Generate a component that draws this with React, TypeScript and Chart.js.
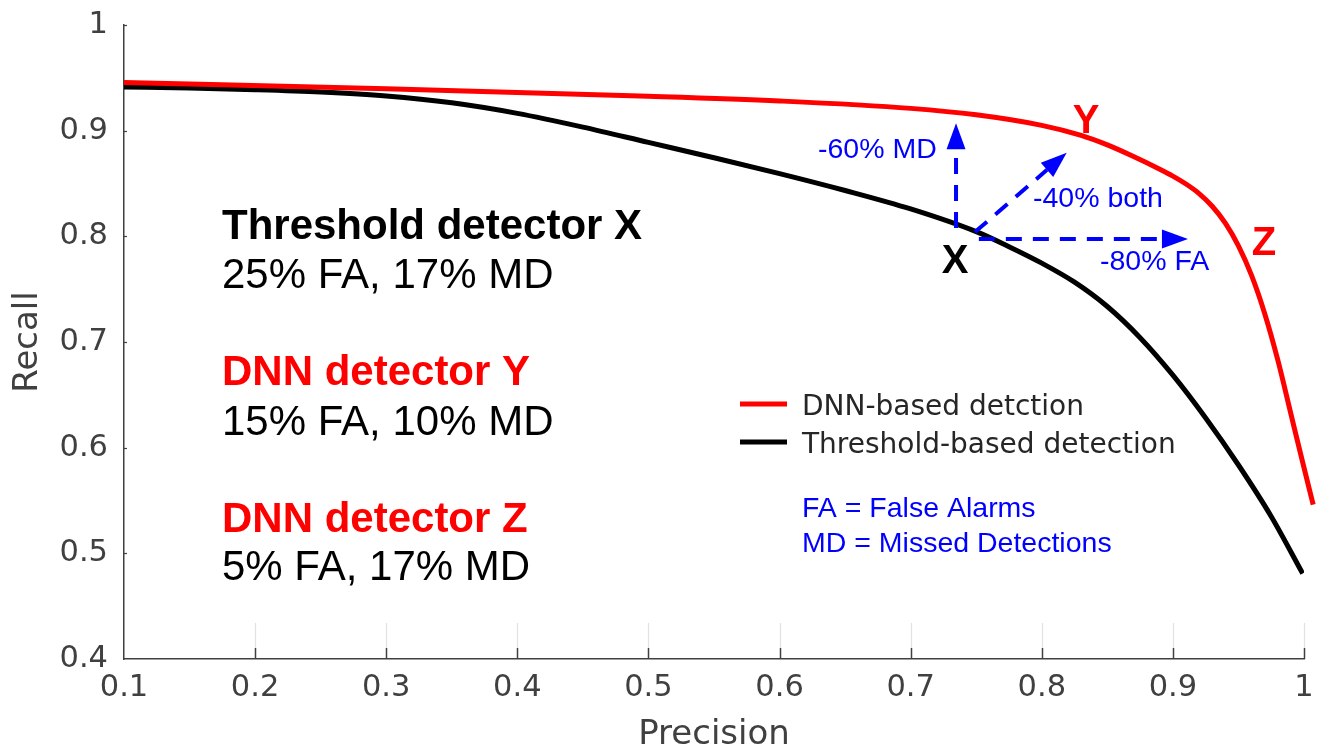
import React, { useEffect, useRef } from 'react';
import { Chart, registerables } from 'chart.js';

Chart.register(...registerables);

// ---------- data ----------
const precisionDNN = [0.1, 0.3, 0.5, 0.6, 0.7, 0.75, 0.8, 0.83, 0.85, 0.87, 0.89, 0.9, 0.91, 0.92, 0.93, 0.94, 0.95, 0.96, 0.97, 0.98, 0.99, 0.999, 1.007];
const recallDNN = [0.9456, 0.9396, 0.9326, 0.9281, 0.9211, 0.915, 0.905, 0.8955, 0.8865, 0.8755, 0.8635, 0.857, 0.8495, 0.8405, 0.8285, 0.8125, 0.791, 0.763, 0.727, 0.683, 0.632, 0.586, 0.546];

const precisionThreshold = [0.1, 0.15, 0.2, 0.25, 0.3, 0.35, 0.4, 0.45, 0.5, 0.55, 0.6, 0.65, 0.7, 0.75, 0.775, 0.8, 0.825, 0.85, 0.875, 0.9, 0.925, 0.95, 0.975, 0.999];
const recallThreshold = [0.9413, 0.9403, 0.9388, 0.9366, 0.9329, 0.9264, 0.9164, 0.9034, 0.8889, 0.8744, 0.8594, 0.8434, 0.8259, 0.8044, 0.7902, 0.7746, 0.7566, 0.7336, 0.7041, 0.6686, 0.6281, 0.5836, 0.5349, 0.4809];

const xTickValues = [0.1, 0.2, 0.3, 0.4, 0.5, 0.6, 0.7, 0.8, 0.9, 1.0];
const xTickLabels = ['0.1', '0.2', '0.3', '0.4', '0.5', '0.6', '0.7', '0.8', '0.9', '1'];
const yTickValues = [0.4, 0.5, 0.6, 0.7, 0.8, 0.9, 1.0];
const yTickLabels = ['0.4', '0.5', '0.6', '0.7', '0.8', '0.9', '1'];

const seriesLabels = ['DNN-based detction', 'Threshold-based detection'];
const seriesColors = ['#ff0000', '#000000'];

const detectorTexts = [
  'Threshold detector X',
  '25% FA, 17% MD',
  'DNN detector Y',
  '15% FA, 10% MD',
  'DNN detector Z',
  '5% FA, 17% MD',
];
const noteTexts = ['FA = False Alarms', 'MD = Missed Detections'];
const arrowTexts = ['-60% MD', '-40% both', '-80% FA'];
const pointLabels = ['X', 'Y', 'Z'];

const AXIS_FONT = 'DejaVu Sans';
const TEXT_FONT = 'Liberation Sans, Arial, Helvetica, sans-serif';
const BLUE = '#0000ff';

function drawArrow(ctx: CanvasRenderingContext2D, x1: number, y1: number, x2: number, y2: number) {
  const ang = Math.atan2(y2 - y1, x2 - x1);
  const hl = 26;
  const hw = 9.5;
  const c = Math.cos(ang);
  const s = Math.sin(ang);
  const bx = x2 - hl * c;
  const by = y2 - hl * s;
  ctx.save();
  ctx.strokeStyle = BLUE;
  ctx.fillStyle = BLUE;
  ctx.lineWidth = 4;
  ctx.setLineDash([16, 11]);
  ctx.beginPath();
  ctx.moveTo(x1, y1);
  ctx.lineTo(bx, by);
  ctx.stroke();
  ctx.setLineDash([]);
  ctx.beginPath();
  ctx.moveTo(x2, y2);
  ctx.lineTo(bx + hw * s, by - hw * c);
  ctx.lineTo(bx - hw * s, by + hw * c);
  ctx.closePath();
  ctx.fill();
  ctx.restore();
}

const decorPlugin = {
  id: 'decor',
  afterDraw(chart: any) {
    const ctx: CanvasRenderingContext2D = chart.ctx;
    const xs = chart.scales.x;
    const ys = chart.scales.y;
    const px = (v: number) => xs.getPixelForValue(v);
    const py = (v: number) => ys.getPixelForValue(v);
    const area = chart.chartArea;

    ctx.save();
    // inward tick marks (bottom)
    xTickValues.forEach((v, i) => {
      if (i === 0) return;
      const x = Math.round(px(v)) + 0.5;
      ctx.strokeStyle = '#e2e2e2';
      ctx.lineWidth = 1.2;
      ctx.beginPath();
      ctx.moveTo(x, area.bottom - 10);
      ctx.lineTo(x, area.bottom - 36);
      ctx.stroke();
      ctx.strokeStyle = '#404040';
      ctx.lineWidth = 1.5;
      ctx.beginPath();
      ctx.moveTo(x, area.bottom);
      ctx.lineTo(x, area.bottom - 11);
      ctx.stroke();
    });
    // inward tick marks (left)
    yTickValues.forEach((v, i) => {
      if (i === 0) return;
      const y = Math.round(py(v)) + 0.5;
      ctx.strokeStyle = '#404040';
      ctx.lineWidth = 1.2;
      ctx.beginPath();
      ctx.moveTo(area.left, y);
      ctx.lineTo(area.left + 3, y);
      ctx.stroke();
    });

    // left text block
    const leftX = 222;
    const baselines = [239, 288, 385, 435, 532, 580];
    const colors = ['#000000', '#000000', '#ff0000', '#000000', '#ff0000', '#000000'];
    ctx.textBaseline = 'alphabetic';
    ctx.textAlign = 'left';
    detectorTexts.forEach((t, i) => {
      const bold = i % 2 === 0;
      ctx.font = `${bold ? 'bold ' : ''}42px ${TEXT_FONT}`;
      ctx.fillStyle = colors[i];
      ctx.fillText(t, leftX, baselines[i]);
    });

    // arrows from point X
    drawArrow(ctx, px(0.7346), py(0.808), px(0.7346), py(0.907));
    drawArrow(ctx, px(0.749), py(0.804), px(0.819), py(0.879));
    drawArrow(ctx, px(0.752), py(0.7975), px(0.9115), py(0.7975));

    // arrow texts
    ctx.font = `28.5px ${TEXT_FONT}`;
    ctx.fillStyle = BLUE;
    ctx.textAlign = 'left';
    ctx.fillText(arrowTexts[0], 818, 158);
    ctx.fillText(arrowTexts[1], 1033, 207);
    ctx.fillText(arrowTexts[2], 1100, 270);

    // point labels
    ctx.font = `bold 40px ${TEXT_FONT}`;
    ctx.textAlign = 'center';
    ctx.fillStyle = '#000000';
    ctx.fillText(pointLabels[0], 955, 273);
    ctx.fillStyle = '#ff0000';
    ctx.fillText(pointLabels[1], 1086, 133);
    ctx.fillText(pointLabels[2], 1264, 255);

    // legend
    const ds = chart.data.datasets;
    const legendY = [404, 442];
    ds.forEach((d: any, i: number) => {
      ctx.strokeStyle = d.borderColor;
      ctx.lineWidth = 5;
      ctx.beginPath();
      ctx.moveTo(740, legendY[i]);
      ctx.lineTo(787, legendY[i]);
      ctx.stroke();
      ctx.font = `28px ${AXIS_FONT}`;
      ctx.fillStyle = '#262626';
      ctx.textAlign = 'left';
      ctx.fillText(d.label, 802, legendY[i] + 11);
    });

    // notes
    ctx.font = `28.5px ${TEXT_FONT}`;
    ctx.fillStyle = BLUE;
    ctx.fillText(noteTexts[0], 802, 517);
    ctx.fillText(noteTexts[1], 802, 552);
    ctx.restore();
  },
};

export default function App() {
  const canvasRef = useRef<HTMLCanvasElement | null>(null);

  useEffect(() => {
    const canvas = canvasRef.current;
    if (!canvas) return;
    const chart = new Chart(canvas, {
      type: 'line',
      data: {
        datasets: [
          {
            label: seriesLabels[0],
            data: precisionDNN.map((p, i) => ({ x: p, y: recallDNN[i] })),
            borderColor: seriesColors[0],
            backgroundColor: seriesColors[0],
            borderWidth: 5,
            pointRadius: 0,
            cubicInterpolationMode: 'monotone',
            clip: false,
            borderJoinStyle: 'round',
          },
          {
            label: seriesLabels[1],
            data: precisionThreshold.map((p, i) => ({ x: p, y: recallThreshold[i] })),
            borderColor: seriesColors[1],
            backgroundColor: seriesColors[1],
            borderWidth: 5,
            pointRadius: 0,
            cubicInterpolationMode: 'monotone',
            borderJoinStyle: 'round',
          },
        ],
      } as any,
      options: {
        animation: false,
        responsive: false,
        devicePixelRatio: 1,
        layout: { padding: { top: 25, right: 13, left: 0, bottom: 0 } },
        plugins: {
          legend: { display: false },
          tooltip: { enabled: false },
        },
        events: [],
        scales: {
          x: {
            type: 'linear',
            position: 'bottom',
            min: 0.1,
            max: 1,
            afterBuildTicks: (s: any) => {
              s.ticks = xTickValues.map((v) => ({ value: v }));
            },
            afterFit: (s: any) => {
              s.height = 87;
              s.paddingLeft = 0;
              s.paddingRight = 0;
            },
            grid: { display: false, drawTicks: false },
            border: { display: true, color: '#404040', width: 1.5 },
            ticks: {
              autoSkip: false,
              maxRotation: 0,
              padding: 11,
              color: '#404040',
              font: { family: AXIS_FONT, size: 30.5 },
              callback: (_v: any, i: number) => xTickLabels[i],
            },
            title: {
              display: true,
              text: 'Precision',
              color: '#404040',
              font: { family: AXIS_FONT, size: 34, lineHeight: 0.8 },
              padding: { top: 0, bottom: -3 },
            },
          },
          y: {
            type: 'linear',
            min: 0.4,
            max: 1,
            afterBuildTicks: (s: any) => {
              s.ticks = yTickValues.map((v) => ({ value: v }));
            },
            afterFit: (s: any) => {
              s.width = 124;
              s.paddingTop = 0;
              s.paddingBottom = 0;
            },
            grid: { display: false, drawTicks: false },
            border: { display: true, color: '#404040', width: 1.5 },
            ticks: {
              autoSkip: false,
              padding: 16,
              color: '#404040',
              font: { family: AXIS_FONT, size: 30.5 },
              callback: (_v: any, i: number) => yTickLabels[i],
            },
            title: {
              display: true,
              text: 'Recall',
              color: '#404040',
              font: { family: AXIS_FONT, size: 34, lineHeight: 1 },
              padding: { top: 11, bottom: 0 },
            },
          },
        },
      } as any,
      plugins: [decorPlugin],
    });
    return () => chart.destroy();
  }, []);

  return (
    <div style={{ position: 'absolute', left: 0, top: 0, width: 1317, height: 746, background: '#ffffff' }}>
      <canvas ref={canvasRef} width={1317} height={746} style={{ display: 'block' }} />
    </div>
  );
}
